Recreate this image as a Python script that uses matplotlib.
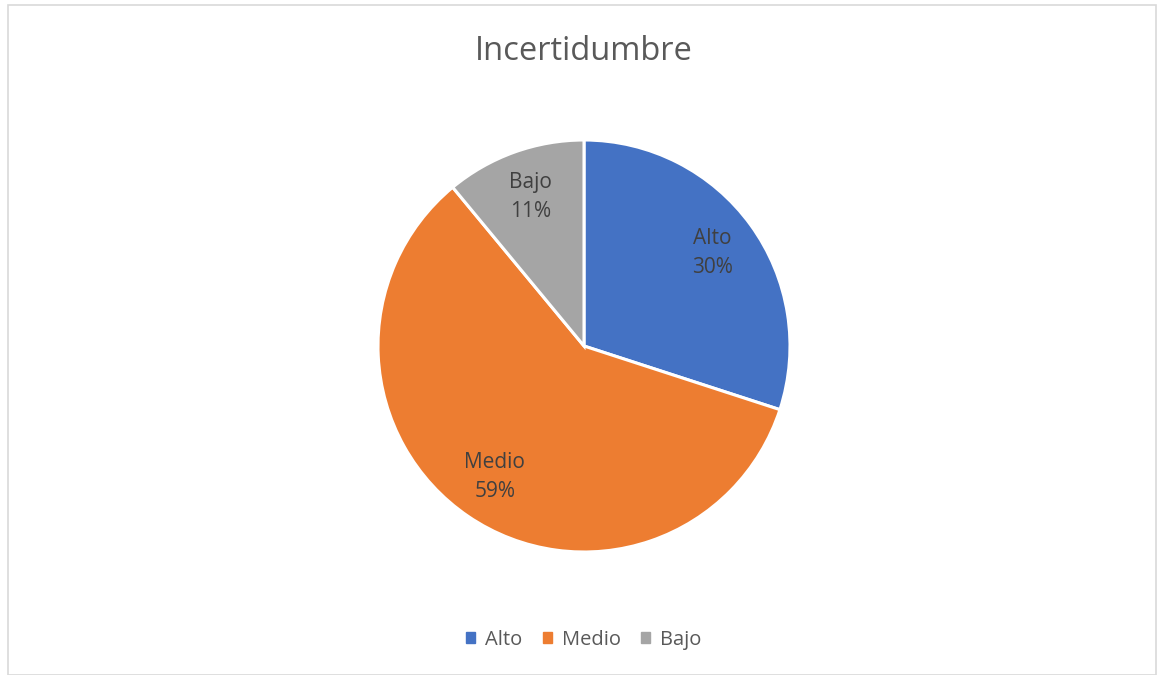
import numpy as np
import matplotlib
matplotlib.use("Agg")
import matplotlib.pyplot as plt
from matplotlib.patches import Rectangle

categories = ["Alto", "Medio", "Bajo"]
percentages = [30, 59, 11]
colors = ["#4472C4", "#ED7D31", "#A5A5A5"]
title = "Incertidumbre"

W, H = 1162, 675
plt.rcParams["font.family"] = ["Open Sans", "DejaVu Sans"]
text_color = "#595959"

fig = plt.figure(figsize=(W / 100, H / 100), dpi=100)
fig.patch.set_facecolor("white")

# chart frame
fig.patches.append(Rectangle((8 / W, 0), (1156 - 8) / W, (H - 5) / H,
                             transform=fig.transFigure, fill=False,
                             edgecolor="#D9D9D9", lw=1.2))

cx, cy, r = 584, 346, 206
ax = fig.add_axes([(cx - r) / W, (H - cy - r) / H, 2 * r / W, 2 * r / H])
wedges, _ = ax.pie(percentages, colors=colors, startangle=90, counterclock=False,
                   wedgeprops=dict(edgecolor="white", linewidth=2.2))
ax.set_xlim(-1, 1)
ax.set_ylim(-1, 1)
ax.set_aspect("equal")
ax.axis("off")

for w, name, pct in zip(wedges, categories, percentages):
    mid = np.deg2rad((w.theta1 + w.theta2) / 2)
    ax.text(0.77 * np.cos(mid), 0.77 * np.sin(mid), f"{name}\n{pct}%",
            ha="center", va="center", fontsize=15, color="#404040",
            linespacing=1.5)

fig.text(cx / W, 1 - 52 / H, title, ha="center", va="center",
         fontsize=23.5, color=text_color)

handles = [Rectangle((0, 0), 1, 1, color=c) for c in colors]
fig.legend(handles, categories, loc="center", bbox_to_anchor=(cx / W, 1 - 640 / H),
           ncol=3, frameon=False, fontsize=14.5, handlelength=0.45, handleheight=0.45,
           handletextpad=0.5, columnspacing=1.0, labelcolor=text_color)

fig.savefig("out.png", dpi=100)
